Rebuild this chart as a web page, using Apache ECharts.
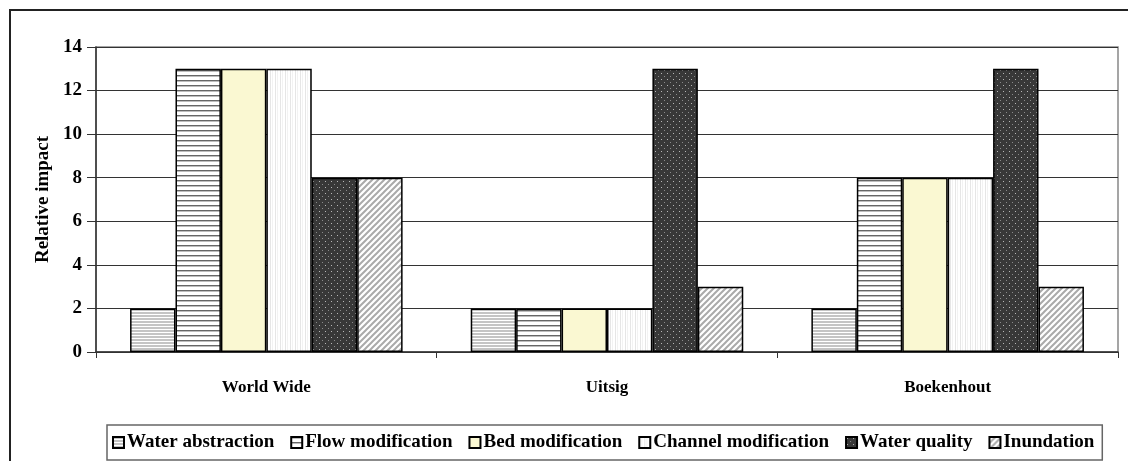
<!DOCTYPE html>
<html>
<head>
<meta charset="utf-8">
<script src="https://cdn.jsdelivr.net/npm/echarts@6/dist/echarts.min.js"></script>
<style>
html,body{margin:0;padding:0;background:#fff;}
#chart{width:1128px;height:461px;}
</style>
</head>
<body>
<div id="chart"></div>
<script>
const categories = ['World Wide', 'Uitsig', 'Boekenhout'];
const seriesNames = ['Water abstraction', 'Flow modification', 'Bed modification', 'Channel modification', 'Water quality', 'Inundation'];
const waterAbstraction = [2, 2, 2];
const flowModification = [13, 2, 8];
const bedModification = [13, 2, 8];
const channelModification = [13, 2, 8];
const waterQuality = [8, 13, 13];
const inundation = [8, 3, 3];
const yTicks = [0, 2, 4, 6, 8, 10, 12, 14];

function tile(w, h, draw) {
  const c = document.createElement('canvas');
  c.width = w; c.height = h;
  const ctx = c.getContext('2d');
  draw(ctx, w, h);
  return { image: c, repeat: 'repeat' };
}
const patWater = tile(4, 3, (g) => {
  g.fillStyle = '#ffffff'; g.fillRect(0, 0, 4, 3);
  g.fillStyle = '#c4c4c4'; g.fillRect(0, 0, 4, 2);
});
const patFlow = tile(4, 5, (g) => {
  g.fillStyle = '#ffffff'; g.fillRect(0, 0, 4, 5);
  g.fillStyle = '#666666'; g.fillRect(0, 0, 4, 1);
  g.fillStyle = '#bdbdbd'; g.fillRect(0, 1, 4, 1);
});
const patChannel = tile(5, 4, (g) => {
  g.fillStyle = '#ffffff'; g.fillRect(0, 0, 5, 4);
  g.fillStyle = '#e6e6e6'; g.fillRect(0, 0, 1, 4);
  g.fillStyle = '#f2f2f2'; g.fillRect(2, 0, 1, 4);
});
const patQuality = tile(6, 6, (g) => {
  g.fillStyle = '#383838'; g.fillRect(0, 0, 6, 6);
  g.fillStyle = '#b8b8b8'; g.fillRect(1, 1, 1, 1);
  g.fillStyle = '#8a8a8a'; g.fillRect(4, 4, 1, 1);
});
const patInund = tile(6, 6, (g) => {
  g.fillStyle = '#ffffff'; g.fillRect(0, 0, 6, 6);
  g.strokeStyle = '#aaaaaa'; g.lineWidth = 2;
  g.beginPath();
  g.moveTo(-1, 7); g.lineTo(7, -1);
  g.moveTo(-4, 4); g.lineTo(4, -4);
  g.moveTo(2, 10); g.lineTo(10, 2);
  g.stroke();
});
const fills = [patWater, patFlow, '#faf8d2', patChannel, patQuality, patInund];
const dataArr = [waterAbstraction, flowModification, bedModification, channelModification, waterQuality, inundation];

const FONT = '"Liberation Serif", "Times New Roman", serif';
const chart = echarts.init(document.getElementById('chart'));
chart.setOption({
  animation: false,
  backgroundColor: '#ffffff',
  textStyle: { fontFamily: FONT },
  grid: { left: 96, right: 10, top: 47, bottom: 109, show: true, borderColor: '#888', borderWidth: 1.5, backgroundColor: 'transparent' },
  graphic: [{
    type: 'rect', shape: { x: 10, y: 10, width: 1300, height: 600 },
    style: { fill: 'none', stroke: '#222', lineWidth: 2 }, silent: true, z: -1
  }],
  legend: {
    bottom: 1, left: 107,
    data: seriesNames,
    icon: 'rect', itemWidth: 11, itemHeight: 11, itemGap: 16,
    borderColor: '#666', borderWidth: 1.5, padding: [8, 8, 8, 5],
    textStyle: { fontFamily: FONT, fontWeight: 'bold', fontSize: 19, color: '#000', padding: [0, 0, 0, -2] }
  },
  xAxis: {
    type: 'category', data: categories,
    axisLine: { lineStyle: { color: '#333', width: 1.5 } },
    axisTick: { show: true, length: 6, lineStyle: { color: '#333' } },
    axisLabel: { fontFamily: FONT, fontWeight: 'bold', fontSize: 17, color: '#000', margin: 27 }
  },
  yAxis: {
    type: 'value', min: 0, max: 14, interval: 2,
    name: 'Relative impact', nameLocation: 'middle', nameGap: 42, nameRotate: 90,
    nameTextStyle: { fontFamily: FONT, fontWeight: 'bold', fontSize: 19, color: '#000' },
    axisLine: { show: true, lineStyle: { color: '#333', width: 1.5 } },
    axisTick: { show: true, length: 9, lineStyle: { color: '#333' } },
    axisLabel: { fontFamily: FONT, fontWeight: 'bold', fontSize: 19, color: '#000', margin: 14,
      formatter: (v) => yTicks.includes(v) ? String(v) : '' },
    splitLine: { show: true, lineStyle: { color: '#333', width: 1 } }
  },
  series: seriesNames.map((n, i) => ({
    name: n, type: 'bar', data: dataArr[i],
    barGap: '0%', barCategoryGap: '20%',
    itemStyle: { color: fills[i], borderColor: '#000', borderWidth: 1.5 }
  }))
});
</script>
</body>
</html>
